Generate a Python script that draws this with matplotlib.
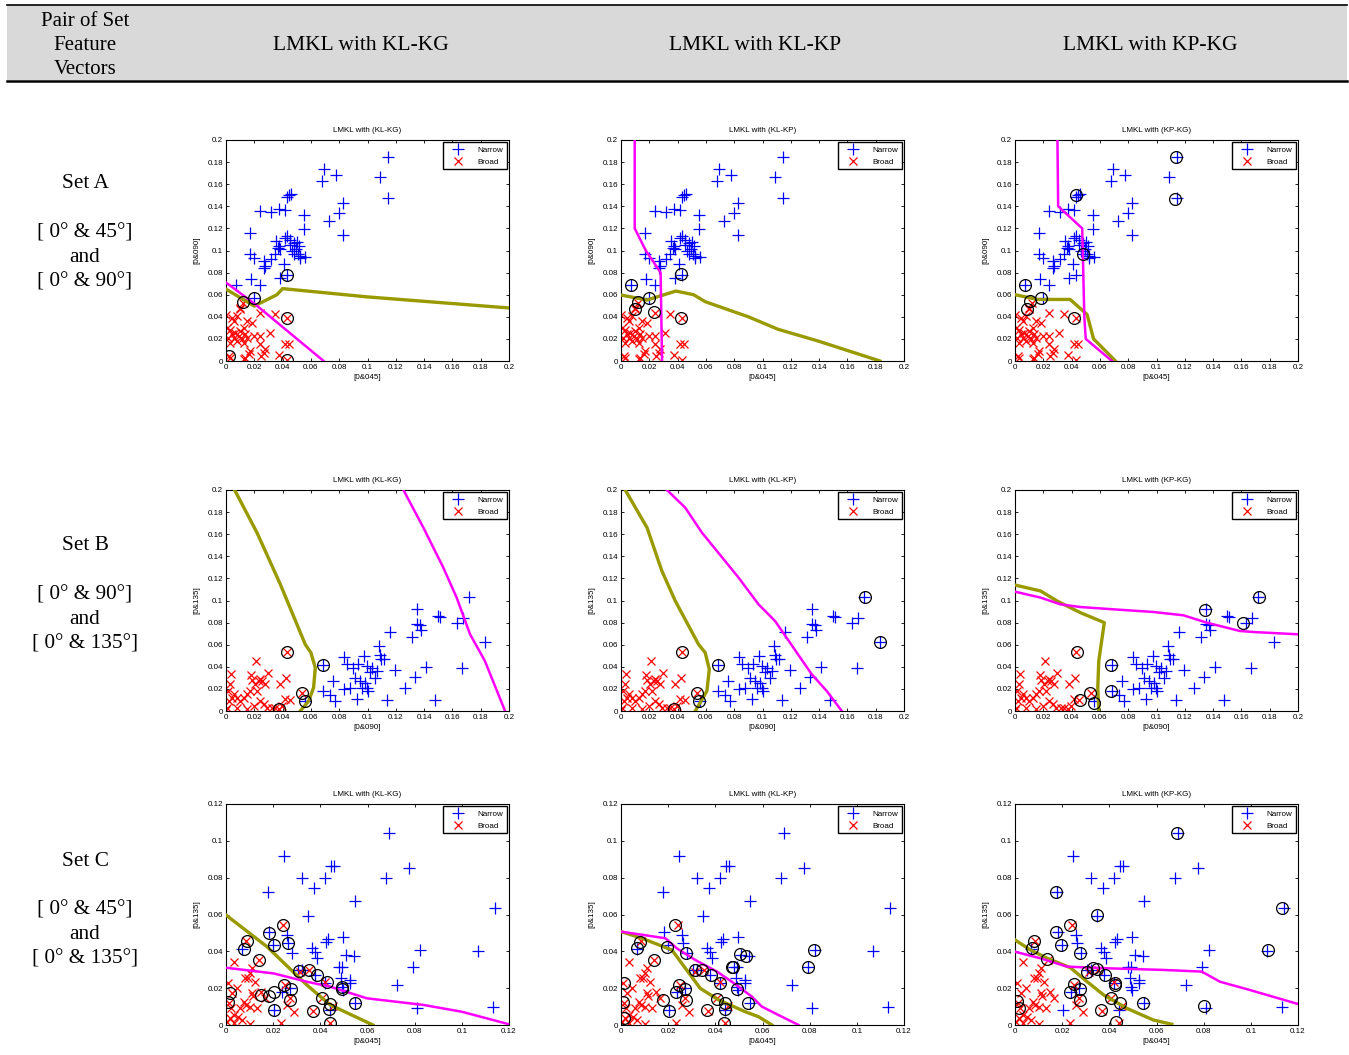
import numpy as np
import matplotlib
matplotlib.use("Agg")
import matplotlib.pyplot as plt
from matplotlib.patches import Rectangle
from matplotlib.lines import Line2D
from matplotlib.ticker import FormatStrFormatter, MultipleLocator

# ================= DATA =================
COL_TITLES = ["LMKL with KL-KG", "LMKL with KL-KP", "LMKL with KP-KG"]
SUB_TITLES = ["LMKL with (KL-KG)", "LMKL with (KL-KP)", "LMKL with (KP-KG)"]
ROW_LABELS = [
    ("Set A", "[ 0\u00b0 & 45\u00b0]", "and", "[ 0\u00b0 & 90\u00b0]"),
    ("Set B", "[ 0\u00b0 & 90\u00b0]", "and", "[ 0\u00b0 & 135\u00b0]"),
    ("Set C", "[ 0\u00b0 & 45\u00b0]", "and", "[ 0\u00b0 & 135\u00b0]"),
]
X_LABELS = ["[0&045]", "[0&090]", "[0&045]"]
Y_LABELS = ["[0&090]", "[0&135]", "[0&135]"]
AX_MAX = [0.2, 0.2, 0.12]

# --- Set A : [0&045] vs [0&090]
setA_narrow = [
    (0.1148, 0.1846), (0.1085, 0.1668), (0.1144, 0.1478), (0.0694, 0.174),
    (0.0678, 0.163), (0.0776, 0.168), (0.0824, 0.1427), (0.080, 0.134),
    (0.0826, 0.1137), (0.0729, 0.1267), (0.0548, 0.1318), (0.0548, 0.1198),
    (0.0447, 0.150), (0.0459, 0.1514), (0.0431, 0.1487), (0.0242, 0.1357),
    (0.032, 0.135), (0.0372, 0.138), (0.0414, 0.1364), (0.0172, 0.1161),
    (0.0172, 0.0965), (0.0195, 0.0935), (0.007, 0.069), (0.018, 0.0739),
    (0.0242, 0.0688), (0.020, 0.057), (0.043, 0.078), (0.0384, 0.0754),
    (0.0407, 0.0875), (0.0266, 0.0845), (0.0278, 0.086), (0.027, 0.0905),
    (0.032, 0.092), (0.0348, 0.0965), (0.0365, 0.1026), (0.0384, 0.1011),
    (0.0355, 0.1086), (0.0372, 0.104), (0.0414, 0.1116), (0.0431, 0.113),
    (0.045, 0.1095), (0.0478, 0.107), (0.0501, 0.108), (0.0513, 0.104),
    (0.0496, 0.101), (0.0506, 0.097), (0.0525, 0.095), (0.0555, 0.094),
    (0.0482, 0.0965), (0.0466, 0.0995), (0.0454, 0.105), (0.052, 0.0935),
]
setA_broad = [
    (0.0002, 0.042), (0.0042, 0.039), (0.0054, 0.036), (0.0078, 0.0407),
    (0.0101, 0.048), (0.012, 0.0528), (0.0007, 0.030), (0.0026, 0.0278),
    (0.0042, 0.024), (0.0012, 0.021), (0.0066, 0.0256), (0.0089, 0.0226),
    (0.0101, 0.027), (0.0125, 0.030), (0.0136, 0.024), (0.0113, 0.0196),
    (0.0078, 0.018), (0.0054, 0.021), (0.0031, 0.0166), (0.0148, 0.021),
    (0.0125, 0.0166), (0.0195, 0.0226), (0.0242, 0.0226), (0.0313, 0.0256),
    (0.0242, 0.015), (0.0278, 0.0106), (0.027, 0.0075), (0.0247, 0.0045),
    (0.0172, 0.009), (0.016, 0.006), (0.0136, 0.003), (0.0125, 0.0015),
    (0.0019, 0.0045), (0.0031, 0.0024), (0.0372, 0.005), (0.0419, 0.0157),
    (0.0442, 0.0151), (0.043, 0.0006), (0.043, 0.0386), (0.0348, 0.0422),
    (0.0242, 0.0437), (0.0148, 0.036), (0.0184, 0.0347), (0.0096, 0.047),
]

# --- Set B : [0&090] vs [0&135]
setB_narrow = [
    (0.172, 0.1035), (0.183, 0.0624), (0.1678, 0.0845), (0.163, 0.0793),
    (0.1666, 0.0392), (0.150, 0.086), (0.1513, 0.0854), (0.1478, 0.0097),
    (0.1414, 0.0398), (0.135, 0.092), (0.135, 0.079), (0.1372, 0.0778),
    (0.1376, 0.0733), (0.1313, 0.0673), (0.1336, 0.031), (0.1266, 0.0211),
    (0.116, 0.0718), (0.1195, 0.0371), (0.1141, 0.0097), (0.1082, 0.0588),
    (0.1096, 0.0468), (0.1118, 0.0468), (0.1085, 0.0504), (0.1066, 0.0362),
    (0.1054, 0.0302), (0.103, 0.0392), (0.1019, 0.0356), (0.0995, 0.0407),
    (0.0972, 0.0498), (0.0936, 0.0428), (0.0901, 0.0392), (0.0854, 0.0428),
    (0.0831, 0.0489), (0.0913, 0.0302), (0.0948, 0.0271), (0.096, 0.0211),
    (0.0995, 0.0211), (0.1007, 0.0181), (0.0984, 0.0256), (0.0925, 0.0106),
    (0.0873, 0.0211), (0.0831, 0.0196), (0.0755, 0.0271), (0.0736, 0.0145),
    (0.0772, 0.009), (0.0685, 0.0181), (0.0685, 0.0413), (0.056, 0.009),
]
setB_broad = [
    (0.043, 0.0534), (0.0536, 0.0166), (0.0372, 0.0015), (0.0212, 0.0452),
    (0.0035, 0.0338), (0.0031, 0.0241), (0.0012, 0.0181), (0.0042, 0.012),
    (0.0078, 0.012), (0.0101, 0.009), (0.0125, 0.012), (0.0148, 0.0151),
    (0.0172, 0.0181), (0.0184, 0.0277), (0.018, 0.0326), (0.0207, 0.0241),
    (0.0231, 0.0271), (0.0242, 0.0286), (0.0254, 0.0271), (0.0294, 0.0347),
    (0.0278, 0.0241), (0.0219, 0.0181), (0.0242, 0.009), (0.0266, 0.006),
    (0.0289, 0.003), (0.0325, 0.0024), (0.0195, 0.0045), (0.0148, 0.0015),
    (0.0078, 0.003), (0.0007, 0.003), (0.0, 0.0006), (0.0384, 0.0241),
    (0.0426, 0.0302), (0.0414, 0.0106), (0.0449, 0.0103), (0.0395, 0.0045),
    (0.0348, 0.003), (0.0054, 0.0151), (0.0019, 0.009),
]

# --- Set C : [0&045] vs [0&135]
setC_narrow = [
    (0.0693, 0.1041), (0.0247, 0.0918), (0.0456, 0.0863), (0.0445, 0.0863),
    (0.0778, 0.0851), (0.0679, 0.080), (0.0322, 0.0796), (0.0421, 0.080),
    (0.0176, 0.0724), (0.0374, 0.0742), (0.0545, 0.0675), (0.1141, 0.0633),
    (0.0346, 0.0594), (0.0184, 0.0507), (0.0258, 0.0489), (0.0263, 0.0443),
    (0.0198, 0.0434), (0.0068, 0.0413), (0.028, 0.0389), (0.0494, 0.048),
    (0.0425, 0.0452), (0.0432, 0.0467), (0.0364, 0.042), (0.0378, 0.0398),
    (0.0385, 0.0362), (0.051, 0.038), (0.0541, 0.0376), (0.048, 0.0317),
    (0.0491, 0.0317), (0.0487, 0.0257), (0.0527, 0.0244), (0.0527, 0.0226),
    (0.0491, 0.0208), (0.0498, 0.019), (0.0378, 0.0271), (0.0421, 0.0226),
    (0.0304, 0.0299), (0.0322, 0.0299), (0.0272, 0.0199), (0.0237, 0.0177),
    (0.0202, 0.008), (0.0442, 0.0081), (0.0548, 0.0118), (0.0792, 0.0317),
    (0.0823, 0.0407), (0.0724, 0.0217), (0.0809, 0.0094), (0.107, 0.0402),
    (0.1134, 0.010),
]
setC_broad = [
    (0.024, 0.0543), (0.0085, 0.0456), (0.0141, 0.0353), (0.0035, 0.034),
    (0.011, 0.0308), (0.0103, 0.0281), (0.0079, 0.0253), (0.0093, 0.0257),
    (0.0124, 0.0235), (0.0007, 0.0226), (0.0025, 0.0172), (0.0047, 0.0199),
    (0.011, 0.0172), (0.0114, 0.0159), (0.0148, 0.0177), (0.0167, 0.0145),
    (0.0075, 0.0127), (0.0086, 0.0109), (0.0061, 0.009), (0.010, 0.010),
    (0.0131, 0.0094), (0.0011, 0.0121), (0.0023, 0.009), (0.0032, 0.0054),
    (0.0051, 0.0045), (0.0068, 0.0027), (0.0032, 0.0009), (0.0004, 0.0018),
    (0.0103, 0.0004), (0.0233, 0.0009), (0.0287, 0.0072), (0.0258, 0.0109),
    (0.0272, 0.0145), (0.0251, 0.0217), (0.035, 0.0299), (0.0312, 0.0286),
    (0.0368, 0.0076), (0.0407, 0.0145), (0.0439, 0.0009), (0.0453, 0.0105),
    (0.0421, 0.0235), (0.0018, 0.004),
]

# --- circled support vectors, per panel
sv_A = [
    [(0.020, 0.057), (0.012, 0.053), (0.043, 0.078), (0.043, 0.0386),
     (0.0019, 0.0045), (0.043, 0.0006)],
    [(0.007, 0.069), (0.0118, 0.053), (0.0096, 0.047), (0.0195, 0.057),
     (0.0235, 0.0446), (0.0426, 0.0784), (0.0424, 0.0386)],
    [(0.1136, 0.1846), (0.1132, 0.147), (0.0431, 0.150), (0.0478, 0.0965),
     (0.007, 0.069), (0.0106, 0.0543), (0.0085, 0.0468), (0.0184, 0.057),
     (0.0414, 0.039)],
]
sv_B = [
    [(0.043, 0.0534), (0.0536, 0.0166), (0.0372, 0.0015), (0.0685, 0.0413),
     (0.056, 0.009)],
    [(0.043, 0.0534), (0.0536, 0.0166), (0.0372, 0.0015), (0.0682, 0.0413),
     (0.0553, 0.009), (0.1725, 0.1035), (0.183, 0.0624)],
    [(0.0439, 0.0534), (0.0533, 0.0166), (0.0458, 0.0103), (0.0556, 0.0075),
     (0.0678, 0.0413), (0.0678, 0.0181), (0.1343, 0.0914), (0.1613, 0.080),
     (0.1725, 0.1035)],
]
sv_C = [
    [(0.024, 0.0543), (0.0181, 0.0497), (0.0089, 0.0456), (0.0075, 0.0413),
     (0.0261, 0.0443), (0.0202, 0.0432), (0.0141, 0.0353), (0.0018, 0.0172),
     (0.0008, 0.0123), (0.0308, 0.0293), (0.035, 0.0301), (0.0385, 0.0271),
     (0.0428, 0.0235), (0.0202, 0.0181), (0.0248, 0.0217), (0.0275, 0.0195),
     (0.0272, 0.0136), (0.0181, 0.016), (0.015, 0.0163), (0.0368, 0.0076),
     (0.0407, 0.0145), (0.0439, 0.0112), (0.0435, 0.0087), (0.0439, 0.0009),
     (0.0491, 0.0208), (0.0491, 0.0196), (0.0548, 0.0118), (0.0202, 0.008)],
    [(0.0011, 0.023), (0.0007, 0.0127), (0.0011, 0.004), (0.0068, 0.0416),
     (0.0082, 0.0452), (0.0138, 0.0353), (0.0178, 0.0136), (0.0202, 0.0078),
     (0.0195, 0.0425), (0.023, 0.0543), (0.0233, 0.0181), (0.0248, 0.0217),
     (0.0277, 0.0393), (0.0272, 0.0196), (0.0275, 0.0136), (0.0315, 0.0299),
     (0.0343, 0.0299), (0.0364, 0.0081), (0.0382, 0.0271), (0.0407, 0.0141),
     (0.0421, 0.0226), (0.0439, 0.0087), (0.0439, 0.0118), (0.0435, 0.0013),
     (0.047, 0.0317), (0.0477, 0.0317), (0.0491, 0.0196), (0.0505, 0.0384),
     (0.053, 0.0376), (0.054, 0.0118), (0.0795, 0.0315), (0.082, 0.0409)],
    [(0.0007, 0.013), (0.0017, 0.0094), (0.0073, 0.0416), (0.008, 0.0456),
     (0.0137, 0.0358), (0.0172, 0.0724), (0.0172, 0.0503), (0.0193, 0.0434),
     (0.0232, 0.0543), (0.0232, 0.0181), (0.0249, 0.0221), (0.0275, 0.0393),
     (0.0275, 0.0196), (0.0275, 0.0136), (0.0306, 0.029), (0.0331, 0.0311),
     (0.0348, 0.0597), (0.0348, 0.0304), (0.0366, 0.0081), (0.0383, 0.0271),
     (0.0408, 0.0145), (0.0425, 0.0226), (0.0425, 0.0217), (0.0444, 0.0118),
     (0.043, 0.0014), (0.0542, 0.0118), (0.0686, 0.1041), (0.0801, 0.0105),
     (0.1073, 0.0405), (0.1134, 0.0633)],
]

# --- decision boundaries (olive = kernel 1 / magenta = kernel 2)
olive_A = [
    [(0, 0.065), (0.02, 0.0497), (0.036, 0.06), (0.04, 0.0655), (0.1, 0.058), (0.2, 0.048)],
    [(0, 0.0597), (0.0184, 0.0552), (0.0388, 0.0633), (0.0513, 0.060), (0.0595, 0.0537),
     (0.09, 0.040), (0.111, 0.0287), (0.1395, 0.018), (0.183, 0.0)],
    [(0, 0.06), (0.016, 0.0557), (0.039, 0.0557), (0.051, 0.042), (0.0555, 0.02), (0.071, 0.0)],
]
magenta_A = [
    [(0, 0.071), (0.02, 0.052), (0.069, 0.0)],
    [(0.0097, 0.2), (0.0097, 0.12), (0.0175, 0.1), (0.028, 0.08), (0.029, 0.0)],
    [(0.03, 0.2), (0.0305, 0.14), (0.0475, 0.12), (0.049, 0.04), (0.05, 0.02), (0.0685, 0.0)],
]
olive_B = [
    [(0.0061, 0.2), (0.0219, 0.1614), (0.0384, 0.1146), (0.056, 0.0603), (0.06, 0.0528),
     (0.0631, 0.0392), (0.0619, 0.0211), (0.0584, 0.009), (0.0525, 0.0)],
    [(0.003, 0.2), (0.0184, 0.1659), (0.0289, 0.1267), (0.0384, 0.0995), (0.0548, 0.0603),
     (0.0595, 0.0528), (0.0624, 0.0377), (0.0607, 0.0181), (0.0525, 0.0)],
    [(0, 0.114), (0.0181, 0.1086), (0.0298, 0.0995), (0.0462, 0.089), (0.0631, 0.080),
     (0.0592, 0.0452), (0.0585, 0.0211), (0.0592, 0.0)],
]
magenta_B = [
    [(0.1254, 0.2), (0.1395, 0.1659), (0.1536, 0.1297), (0.163, 0.1026), (0.1725, 0.0694),
     (0.183, 0.0452), (0.1972, 0.0)],
    [(0.0325, 0.2), (0.0454, 0.184), (0.0572, 0.1614), (0.0831, 0.1207), (0.0972, 0.0965),
     (0.1089, 0.0814), (0.1348, 0.0332), (0.1454, 0.0181), (0.156, 0.0)],
    [(0, 0.108), (0.0181, 0.1026), (0.0322, 0.0965), (0.0462, 0.0941), (0.0697, 0.092),
     (0.0979, 0.0896), (0.119, 0.0866), (0.1354, 0.080), (0.1589, 0.0724), (0.1683, 0.0715),
     (0.2, 0.0694)],
]
olive_C = [
    [(0, 0.0597), (0.0174, 0.0425), (0.0343, 0.0217), (0.0442, 0.0109), (0.0623, 0.0)],
    [(0, 0.0507), (0.0089, 0.0471), (0.0216, 0.0407), (0.0273, 0.0308), (0.0336, 0.0199),
     (0.0414, 0.0136), (0.0527, 0.0072), (0.0583, 0.0045), (0.064, 0.0)],
    [(0, 0.0462), (0.0066, 0.0407), (0.0137, 0.0362), (0.0235, 0.0311), (0.0306, 0.0235),
     (0.0376, 0.0163), (0.0475, 0.009), (0.0587, 0.0027), (0.0665, 0.0004)],
]
magenta_C = [
    [(0, 0.0311), (0.0202, 0.028), (0.0343, 0.0235), (0.0442, 0.0208), (0.0597, 0.0145),
     (0.0837, 0.0109), (0.1, 0.0072), (0.12, 0.0004)],
    [(0, 0.0507), (0.0188, 0.0471), (0.0237, 0.0416), (0.0315, 0.0353), (0.0407, 0.029),
     (0.047, 0.0235), (0.0555, 0.0154), (0.0597, 0.010), (0.0668, 0.0054), (0.0753, 0.0)],
    [(0, 0.0398), (0.0108, 0.0362), (0.0221, 0.0317), (0.039, 0.0308), (0.063, 0.0299),
     (0.0792, 0.029), (0.0869, 0.0235), (0.0996, 0.019), (0.12, 0.0114)],
]

narrow_sets = [setA_narrow, setB_narrow, setC_narrow]
broad_sets = [setA_broad, setB_broad, setC_broad]
sv_sets = [sv_A, sv_B, sv_C]
olive_sets = [olive_A, olive_B, olive_C]
magenta_sets = [magenta_A, magenta_B, magenta_C]
# ========================================

OLIVE = "#999900"
W, H = 1349, 1055
FS = 5.8  # small text inside the panels
plt.rcParams["font.family"] = ["Liberation Sans", "DejaVu Sans"]

fig = plt.figure(figsize=(W / 100, H / 100), dpi=100)

# header band
fig.patches.append(Rectangle((7 / W, 1 - 80 / H), 1340 / W, 75 / H,
                             transform=fig.transFigure, facecolor="#d9d9d9",
                             edgecolor="none", zorder=0))
fig.lines.append(Line2D([7 / W, 1347 / W], [1 - 5 / H, 1 - 5 / H],
                        transform=fig.transFigure, color="black", lw=1.2))
fig.lines.append(Line2D([7 / W, 1347 / W], [1 - 80.5 / H, 1 - 80.5 / H],
                        transform=fig.transFigure, color="black", lw=1.8))

serif = ["Liberation Serif", "DejaVu Serif"]
for i, t in enumerate(["Pair of Set", "Feature", "Vectors"]):
    fig.text(85 / W, 1 - (21 + 24 * i) / H, t, ha="center", va="center",
             family=serif, fontsize=15)
for cx, t in zip([361, 755, 1150], COL_TITLES):
    fig.text(cx / W, 1 - 45 / H, t, ha="center", va="center",
             family=serif, fontsize=15.5)

row_y = [184, 546, 861]
for ry, lab in zip(row_y, ROW_LABELS):
    offs = [0, 49, 73.5, 98]
    for o, t in zip(offs, lab):
        fig.text(85 / W, 1 - (ry + o) / H, t, ha="center", va="center",
                 family=serif, fontsize=15.3)

lefts = [226, 621, 1015]
tops = [140, 490, 804]
aw, ah = 283, 221

for r in range(3):
    nx, ny = np.array(narrow_sets[r]).T
    bx, by = np.array(broad_sets[r]).T
    mx = AX_MAX[r]
    for c in range(3):
        ax = fig.add_axes([lefts[c] / W, 1 - (tops[r] + ah) / H, aw / W, ah / H])
        ax.plot(nx, ny, "+", color="blue", ms=8.5, mew=0.9, label="Narrow")
        ax.plot(bx, by, "x", color="red", ms=5.5, mew=0.9, label="Broad")
        ox, oy = np.array(olive_sets[r][c]).T
        ax.plot(ox, oy, color=OLIVE, lw=2.4, zorder=3)
        px, py = np.array(magenta_sets[r][c]).T
        ax.plot(px, py, color="magenta", lw=1.8, zorder=3)
        sx, sy = np.array(sv_sets[r][c]).T
        ax.plot(sx, sy, "o", ms=8.5, mfc="none", mec="black", mew=0.9, zorder=4)

        ax.set_xlim(0, mx)
        ax.set_ylim(0, mx)
        ax.xaxis.set_major_locator(MultipleLocator(0.02))
        ax.yaxis.set_major_locator(MultipleLocator(0.02))
        ax.xaxis.set_major_formatter(FormatStrFormatter("%g"))
        ax.yaxis.set_major_formatter(FormatStrFormatter("%g"))
        ax.tick_params(direction="in", top=True, right=True, length=2,
                       width=0.6, labelsize=FS, pad=2)
        for s in ax.spines.values():
            s.set_linewidth(0.8)
        ax.set_title(SUB_TITLES[c], fontsize=FS, pad=6)
        ax.set_xlabel(X_LABELS[r], fontsize=FS, labelpad=2.5)
        ax.set_ylabel(Y_LABELS[r], fontsize=FS, labelpad=5)
        leg = ax.legend(loc="upper right", fontsize=FS, fancybox=False,
                        edgecolor="black", framealpha=1, borderpad=0.45,
                        handlelength=2.8, handletextpad=1.0, labelspacing=0.55,
                        borderaxespad=0.3)
        leg.get_frame().set_linewidth(1.0)

fig.savefig("out.png", dpi=100)
